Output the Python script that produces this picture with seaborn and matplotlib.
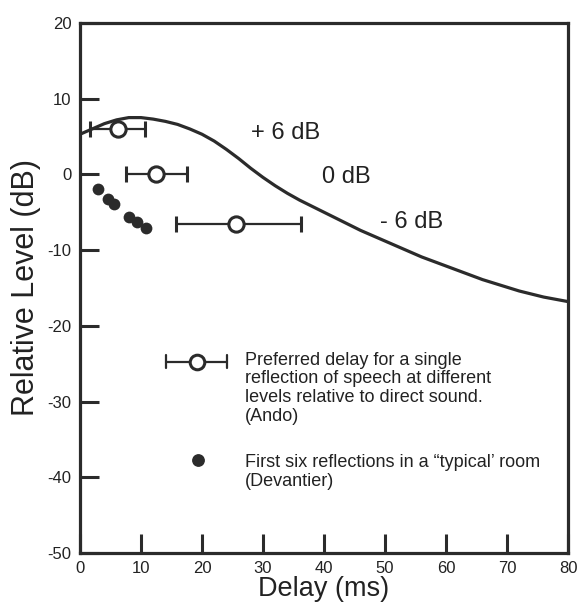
import numpy as np
import pandas as pd
import matplotlib
matplotlib.use("Agg")
import matplotlib.pyplot as plt
import seaborn as sns

# ---- data ----
curve_delay = [0, 2, 4, 6, 8, 10, 12, 14, 16, 18, 20, 22, 24, 26, 28, 30, 32, 34, 36, 38,
               40, 42, 44, 46, 48, 50, 52, 54, 56, 58, 60, 62, 64, 66, 68, 70, 72, 74,
               76, 78, 80]
curve_level = [5.3, 6.0, 6.7, 7.2, 7.5, 7.5, 7.3, 7.0, 6.6, 6.0, 5.3, 4.4, 3.3, 2.1, 0.8,
               -0.4, -1.5, -2.5, -3.4, -4.2, -5.0, -5.8, -6.6, -7.4, -8.1, -8.8, -9.5,
               -10.2, -10.9, -11.5, -12.1, -12.7, -13.3, -13.9, -14.4, -14.9, -15.4,
               -15.8, -16.2, -16.5, -16.8]

pref_delay = [6.3, 12.5, 25.5]
pref_level = [6.0, 0.0, -6.5]
pref_low = [1.6, 7.6, 15.7]
pref_high = [10.6, 17.6, 36.3]
level_labels = ["+ 6 dB", "0 dB", "- 6 dB"]
label_x = [28.0, 39.7, 49.1]
label_y = [4.7, -1.1, -7.1]

refl_delay = [3.0, 4.6, 5.5, 8.1, 9.3, 10.75]
refl_level = [-1.9, -3.2, -3.9, -5.6, -6.25, -7.1]

x_ticks = [0, 10, 20, 30, 40, 50, 60, 70, 80]
y_ticks = [-50, -40, -30, -20, -10, 0, 10, 20]

legend_pref = ("Preferred delay for a single\nreflection of speech at different\n"
               "levels relative to direct sound.\n(Ando)")
legend_refl = "First six reflections in a \u201ctypical\u2019 room\n(Devantier)"

# ---- style ----
sns.set_theme(style="ticks")
plt.rcParams["font.family"] = ["Liberation Sans", "DejaVu Sans"]
plt.rcParams["axes.unicode_minus"] = False
dark = "#2b2b2b"
txt = "#222222"

fig = plt.figure(figsize=(5.78, 6.07), dpi=100)
ax = fig.add_axes([0.1384, 0.0890, 0.8443, 0.8732])

curve_df = pd.DataFrame({"delay": curve_delay, "level": curve_level})
sns.lineplot(data=curve_df, x="delay", y="level", ax=ax, color=dark, lw=2.3,
             sort=True, estimator=None)

refl_df = pd.DataFrame({"delay": refl_delay, "level": refl_level})
sns.scatterplot(data=refl_df, x="delay", y="level", ax=ax, color=dark, s=72,
                edgecolor=dark, linewidth=0, zorder=4)

xerr = np.array([np.subtract(pref_delay, pref_low), np.subtract(pref_high, pref_delay)])
ax.errorbar(pref_delay, pref_level, xerr=xerr, fmt="o", ms=11, mfc="white",
            mec=dark, mew=2.2, ecolor=dark, elinewidth=1.6, capsize=5.5,
            capthick=1.6, color=dark, zorder=5)

for t, xx, yy in zip(level_labels, label_x, label_y):
    ax.text(xx, yy, t, fontsize=17, color=txt, va="baseline", ha="left")

# ---- legend (keys drawn in axes fraction) ----
tr = ax.transAxes
ax.plot([0.176, 0.301], [0.361, 0.361], color=dark, lw=1.6, transform=tr,
        clip_on=False)
ax.plot([0.176, 0.176], [0.349, 0.373], color=dark, lw=1.6, transform=tr,
        clip_on=False)
ax.plot([0.301, 0.301], [0.349, 0.373], color=dark, lw=1.6, transform=tr,
        clip_on=False)
ax.plot([0.239], [0.361], marker="o", ms=10.5, mfc="white", mec=dark, mew=2.2,
        transform=tr, clip_on=False, zorder=5)
ax.plot([0.242], [0.175], marker="o", ms=8.2, color=dark, mec=dark,
        transform=tr, clip_on=False)
ax.text(0.338, 0.380, legend_pref, transform=tr, fontsize=13, color=txt,
        va="top", ha="left", linespacing=1.13)
ax.text(0.338, 0.187, legend_refl, transform=tr, fontsize=13, color=txt,
        va="top", ha="left", linespacing=1.13)

ax.set_xlim(0, 80)
ax.set_ylim(-50, 20)
ax.set_xticks(x_ticks)
ax.set_yticks(y_ticks)
ax.set_xlabel("Delay (ms)", fontsize=19.5, color=txt, labelpad=0)
ax.set_ylabel("Relative Level (dB)", fontsize=22, color=txt, labelpad=5)

for s in ax.spines.values():
    s.set_visible(True)
    s.set_linewidth(2.3)
    s.set_color(dark)
ax.tick_params(axis="both", direction="in", length=14, width=2.2, color=dark,
               labelsize=12, labelcolor=txt)
ax.tick_params(axis="x", pad=6)
ax.tick_params(axis="y", pad=6)
ax.set_facecolor("white")
fig.patch.set_facecolor("white")

fig.savefig("out.png", dpi=100)
